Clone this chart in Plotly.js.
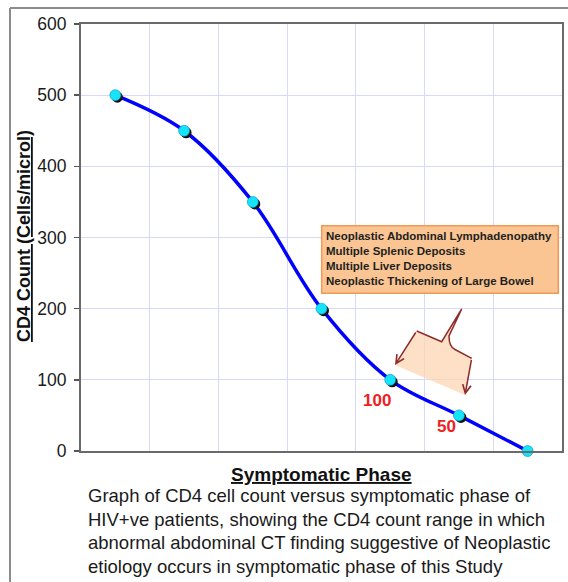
<!DOCTYPE html>
<html>
<head>
<meta charset="utf-8">
<script src="https://cdn.plot.ly/plotly-3.0.1.min.js"></script>
<style>
  html, body { margin: 0; padding: 0; background: #ffffff; }
  #chart { width: 568px; height: 582px; }
</style>
</head>
<body>
<div id="chart"></div>
<script>
// ---- data ----
const phases = ['P1', 'P2', 'P3', 'P4', 'P5', 'P6', 'P7'];
const cd4 = [500, 450, 350, 200, 100, 50, 0];
const yTicks = [0, 100, 200, 300, 400, 500, 600];
const yTitle = 'CD4 Count (Cells/microl)';
const xTitle = 'Symptomatic Phase';
const boxLines = [
  'Neoplastic Abdominal Lymphadenopathy',
  'Multiple Splenic Deposits',
  'Multiple Liver Deposits',
  'Neoplastic Thickening of Large Bowel'
];
const captionLines = [
  'Graph of CD4 cell count versus symptomatic phase of',
  'HIV+ve patients, showing the CD4 count range in which',
  'abnormal abdominal CT finding suggestive of Neoplastic',
  'etiology occurs in symptomatic phase of this Study'
];
const rangeLabelIdx = [4, 5];

// ---- layout helpers (pixel -> paper) ----
const W = 568, H = 582;
const L = 81, R = 6, T = 24, B = 131;
const PW = W - L - R, PH = H - T - B;
const px = v => (v - L) / PW;
const py = v => (H - B - v) / PH;
const FONT = 'Arial, "Liberation Sans", sans-serif';

const traces = [
  { x: phases, y: cd4, type: 'scatter', mode: 'lines',
    line: { color: '#0000ff', width: 3.5, shape: 'spline', smoothing: 1 },
    hoverinfo: 'skip', cliponaxis: false },
  { x: phases, y: cd4, type: 'scatter', mode: 'markers', xaxis: 'x2', yaxis: 'y2',
    marker: { color: '#111111', size: 11 }, hoverinfo: 'skip', cliponaxis: false },
  { x: phases, y: cd4, type: 'scatter', mode: 'markers', xaxis: 'x3', yaxis: 'y3',
    marker: { color: '#14e3fa', size: 11, line: { color: '#0a90c0', width: 0.6 } },
    hoverinfo: 'skip', cliponaxis: false }
];

const dx = 2 / (PW / 7), dy = 2 / (PH / 600);

const annotations = [];
// titles
annotations.push({ xref: 'paper', yref: 'paper', x: px(23.5), y: py(236.5),
  text: '<b><u>' + yTitle + '</u></b>', textangle: -90, showarrow: false,
  xanchor: 'center', yanchor: 'middle', font: { family: FONT, size: 18, color: '#111' } });
annotations.push({ xref: 'paper', yref: 'paper', x: px(321.7), y: py(474.2),
  text: '<b><u>' + xTitle + '</u></b>', showarrow: false,
  xanchor: 'center', yanchor: 'middle', font: { family: FONT, size: 19, color: '#111' } });
// caption
const capY = [495.5, 519, 542.5, 566];
captionLines.forEach((t, i) => annotations.push({ xref: 'paper', yref: 'paper',
  x: px(86), y: py(capY[i]), text: t, showarrow: false, xanchor: 'left', yanchor: 'middle',
  font: { family: FONT, size: 18.5, color: '#1a1a1a' } }));
// box text
const boxY = [235.5, 250.8, 266.2, 281.3];
boxLines.forEach((t, i) => annotations.push({ xref: 'paper', yref: 'paper',
  x: px(324), y: py(boxY[i]), text: '<b>' + t + '</b>', showarrow: false,
  xanchor: 'left', yanchor: 'middle', font: { family: FONT, size: 11.5, color: '#1f1f1f' } }));
// red range labels (placed relative to their data points)
const shifts = [[-13.7, -20.6], [-12.3, -10.6]];
rangeLabelIdx.forEach((k, i) => annotations.push({ xref: 'x', yref: 'y',
  x: k, y: cd4[k], xshift: shifts[i][0], yshift: shifts[i][1],
  text: '<b>' + cd4[k] + '</b>', showarrow: false, xanchor: 'center', yanchor: 'middle',
  font: { family: FONT, size: 17, color: '#f02020' } }));
// arrowheads of the callout
const arrowCol = '#8e2b2b';
annotations.push({ xref: 'paper', yref: 'paper', x: px(395), y: py(365), ax: 21.7, ay: -34,
  text: '', showarrow: true, arrowhead: 5, arrowsize: 1.1, arrowwidth: 1.5, arrowcolor: arrowCol, standoff: 0 });
annotations.push({ xref: 'paper', yref: 'paper', x: px(465), y: py(395), ax: 6.7, ay: -36.7,
  text: '', showarrow: true, arrowhead: 5, arrowsize: 1.1, arrowwidth: 1.5, arrowcolor: arrowCol, standoff: 0 });

const P = (x, y) => px(x).toFixed(4) + ',' + py(y).toFixed(4);
const fillPath = 'M' + P(395, 365) + ' L' + P(416.7, 331) + ' L' + P(441.7, 341.7) + ' L' + P(461.7, 309) +
  ' L' + P(449, 336) + ' Q' + P(449, 347) + ' ' + P(455, 349.5) + ' L' + P(471.7, 358.3) + ' L' + P(465, 395) + ' Z';
const linePath = 'M' + P(416.7, 331) + ' L' + P(441.7, 341.7) + ' L' + P(461.7, 309) +
  ' M' + P(461.7, 309) + ' L' + P(449, 336) + ' Q' + P(449, 347) + ' ' + P(455, 349.5) + ' L' + P(471.7, 358.3);

const shapes = [
  // outer frame lines
  { type: 'line', xref: 'paper', yref: 'paper', x0: px(10), x1: px(570), y0: py(8), y1: py(8),
    line: { color: '#8c8c8c', width: 2 } },
  { type: 'line', xref: 'paper', yref: 'paper', x0: px(10), x1: px(10), y0: py(8), y1: py(584),
    line: { color: '#8c8c8c', width: 2 } },
  // callout fill and outline
  { type: 'path', xref: 'paper', yref: 'paper', path: fillPath, fillcolor: 'rgba(252,214,178,0.75)',
    line: { width: 0 }, layer: 'above' },
  { type: 'path', xref: 'paper', yref: 'paper', path: linePath, fillcolor: 'rgba(0,0,0,0)',
    line: { color: arrowCol, width: 1.5 }, layer: 'above' },
  // orange text box
  { type: 'rect', xref: 'paper', yref: 'paper', x0: px(321.7), x1: px(558.3), y0: py(293.3), y1: py(225.7),
    fillcolor: '#fac592', line: { color: '#f29a55', width: 1.5 }, layer: 'above' }
];

const layout = {
  width: W, height: H,
  margin: { l: L, r: R, t: T, b: B, pad: 0 },
  paper_bgcolor: '#ffffff', plot_bgcolor: '#ffffff',
  showlegend: false,
  xaxis: { type: 'category', range: [-0.5, 6.5], tickson: 'boundaries', showticklabels: false,
    ticks: '', showgrid: true, gridcolor: '#d8d8ff', gridwidth: 1,
    showline: true, linecolor: '#6a6a6a', linewidth: 2, mirror: true, zeroline: false, fixedrange: true },
  yaxis: { range: [0, 600], tickvals: yTicks, ticktext: yTicks.map(String), ticks: 'outside', ticklen: 5,
    tickwidth: 1.5, tickcolor: '#555', ticklabelstandoff: 4,
    tickfont: { family: FONT, size: 17.5, color: '#1a1a1a' },
    showgrid: true, gridcolor: '#d8d8ff', gridwidth: 1,
    showline: true, linecolor: '#6a6a6a', linewidth: 2, mirror: true, zeroline: false, fixedrange: true },
  xaxis2: { type: 'category', overlaying: 'x', range: [-0.5 - dx, 6.5 - dx], visible: false, fixedrange: true },
  yaxis2: { overlaying: 'y', range: [dy, 600 + dy], visible: false, fixedrange: true, anchor: 'x2' },
  xaxis3: { type: 'category', overlaying: 'x', range: [-0.5, 6.5], visible: false, fixedrange: true },
  yaxis3: { overlaying: 'y', range: [0, 600], visible: false, fixedrange: true, anchor: 'x3' },
  annotations: annotations,
  shapes: shapes
};

Plotly.newPlot('chart', traces, layout, { displayModeBar: false, staticPlot: true });
</script>
</body>
</html>
